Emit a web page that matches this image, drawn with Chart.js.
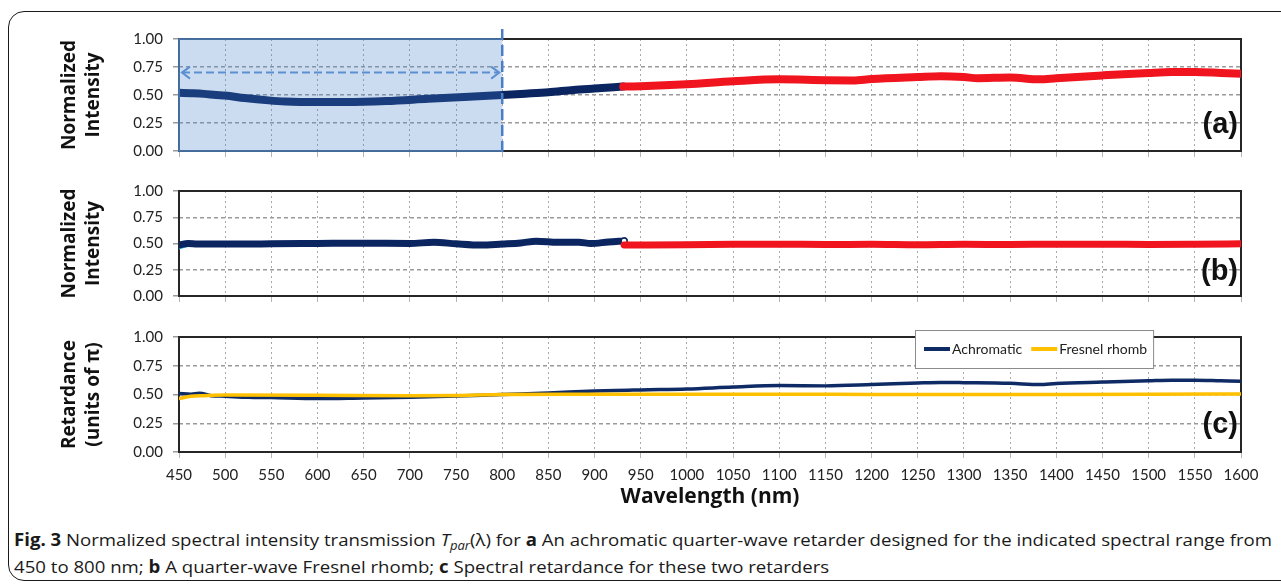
<!DOCTYPE html>
<html>
<head>
<meta charset="utf-8">
<script src="https://cdn.jsdelivr.net/npm/chart.js@4.4.0/dist/chart.umd.min.js"></script>
<style>
  body { margin: 0; background: #fff; width: 1281px; height: 584px; overflow: hidden; position: relative; }
  .frame { position: absolute; left: 8px; top: 11px; width: 1300px; height: 568px; border: 1.5px solid #1a1a1a; border-radius: 16px; }
  canvas { position: absolute; left: 0; }
  #caption { position: absolute; left: 14px; top: 526px; font-family: "Open Sans", sans-serif; font-size: 17px; line-height: 27px;
             color: #1a1a1a; white-space: nowrap; transform-origin: 0 0; }
  #caption sub { font-size: 70%; vertical-align: -4px; line-height: 0; }
</style>
</head>
<body>
<div class="frame"></div>
<canvas id="chartA" width="1281" height="150" style="top:20px"></canvas>
<canvas id="chartB" width="1281" height="143" style="top:172px"></canvas>
<canvas id="chartC" width="1281" height="192" style="top:318px"></canvas>
<div id="caption"><b>Fig. 3</b> Normalized spectral intensity transmission <i>T<sub>par</sub></i>(λ) for <b>a</b> An achromatic quarter-wave retarder designed for the indicated spectral range from<br>450 to 800 nm; <b>b</b> A quarter-wave Fresnel rhomb; <b>c</b> Spectral retardance for these two retarders</div>

<script>
// wavelength axis (nm) and intensity / retardance axis
var xMin = 450, xMax = 1600, xStep = 50;
var yMin = 0, yMax = 1, yStep = 0.25;

// (a) achromatic retarder, two spectrometers
var aNavyX = [450, 463, 477, 490, 500, 521, 547, 565, 600, 631, 675, 720, 764, 800, 825, 850, 877, 900, 931];
var aNavyY = [0.52, 0.516, 0.51, 0.50, 0.495, 0.473, 0.452, 0.442, 0.437, 0.437, 0.446, 0.466, 0.484, 0.50, 0.512, 0.525, 0.545, 0.558, 0.575];
var aRedX = [931, 950, 1000, 1050, 1100, 1150, 1180, 1200, 1250, 1275, 1300, 1315, 1350, 1382, 1400, 1450, 1500, 1525, 1550, 1578, 1600];
var aRedY = [0.575, 0.578, 0.595, 0.622, 0.64, 0.632, 0.63, 0.643, 0.66, 0.667, 0.66, 0.65, 0.656, 0.64, 0.65, 0.675, 0.697, 0.705, 0.705, 0.697, 0.69];

// (b) Fresnel rhomb
var bCyanX = [450, 453, 457];
var bCyanY = [0.468, 0.475, 0.485];
var bNavyX = [450, 460, 470, 500, 550, 600, 650, 700, 726, 750, 777, 800, 820, 837, 860, 883, 896, 915, 932];
var bNavyY = [0.485, 0.50, 0.495, 0.495, 0.497, 0.50, 0.503, 0.50, 0.512, 0.497, 0.485, 0.495, 0.505, 0.522, 0.512, 0.512, 0.50, 0.515, 0.525];
var bRedX = [932, 1000, 1050, 1100, 1150, 1200, 1250, 1300, 1350, 1400, 1450, 1500, 1550, 1600];
var bRedY = [0.485, 0.488, 0.492, 0.494, 0.49, 0.493, 0.488, 0.493, 0.49, 0.494, 0.494, 0.491, 0.493, 0.497];

// (c) retardance
var cAchroX = [450, 463, 472, 485, 500, 525, 550, 600, 650, 700, 750, 800, 850, 900, 936, 950, 1000, 1050, 1100, 1150, 1200, 1250, 1275, 1300, 1350, 1382, 1400, 1450, 1500, 1525, 1550, 1578, 1600];
var cAchroY = [0.508, 0.502, 0.51, 0.49, 0.485, 0.476, 0.473, 0.465, 0.47, 0.475, 0.486, 0.50, 0.513, 0.53, 0.537, 0.54, 0.548, 0.565, 0.578, 0.575, 0.586, 0.60, 0.605, 0.603, 0.597, 0.586, 0.595, 0.608, 0.62, 0.625, 0.625, 0.62, 0.616];
var cFresX = [450, 463, 477, 500, 600, 700, 750, 800, 900, 1000, 1100, 1200, 1300, 1400, 1500, 1600];
var cFresY = [0.465, 0.485, 0.49, 0.495, 0.494, 0.49, 0.492, 0.50, 0.502, 0.503, 0.503, 0.501, 0.50, 0.50, 0.502, 0.505];

var seriesNames = ['Achromatic', 'Fresnel rhomb'];
var panelLetters = ['(a)', '(b)', '(c)'];

// design range of the achromatic retarder, marked in panel (a)
var rangeFrom = 450, rangeTo = 800, arrowLevel = 0.70;

function pts(xs, ys) {
    return xs.map(function(x, i) { return { x: x, y: ys[i] }; });
}

function series(xs, ys, color, width, order) {
    return {
        data: pts(xs, ys),
        borderColor: color,
        backgroundColor: color,
        borderWidth: width,
        pointRadius: 0,
        cubicInterpolationMode: 'monotone',
        borderCapStyle: 'round',
        borderJoinStyle: 'round',
        fill: false,
        order: order
    };
}

// plot frame and the panel letter
var panelFrame = {
    id: 'panelFrame',
    beforeDatasetsDraw: function(chart) {
        var a = chart.chartArea, ctx = chart.ctx;
        ctx.save();
        ctx.strokeStyle = '#262626';
        ctx.lineWidth = 2;
        ctx.strokeRect(a.left, a.top, a.right - a.left, a.bottom - a.top);
        ctx.restore();
    },
    afterDatasetsDraw: function(chart, args, opts) {
        var a = chart.chartArea, ctx = chart.ctx;
        ctx.save();
        ctx.font = 'bold 29px "Liberation Sans", Arial, sans-serif';
        ctx.fillStyle = '#111';
        ctx.textAlign = 'right';
        ctx.textBaseline = 'middle';
        ctx.fillText(opts.letter, a.right - 3, chart.scales.y.getPixelForValue(0.25) + 2);
        ctx.restore();
    }
};

// shaded design range with dashed edge and double arrow
var rangeMarker = {
    id: 'rangeMarker',
    afterDatasetsDraw: function(chart) {
        var ctx = chart.ctx, x = chart.scales.x, y = chart.scales.y;
        var x0 = x.getPixelForValue(rangeFrom), x1 = x.getPixelForValue(rangeTo);
        var yt = y.getPixelForValue(yMax), yb = y.getPixelForValue(yMin);
        var ya = y.getPixelForValue(arrowLevel);
        ctx.save();
        ctx.fillStyle = 'rgba(70,130,200,0.28)';
        ctx.fillRect(x0, yt, x1 - x0, yb - yt);
        ctx.strokeStyle = '#4f81bd';
        ctx.lineWidth = 1.5;
        ctx.beginPath();
        ctx.moveTo(x1, yt); ctx.lineTo(x0, yt); ctx.lineTo(x0, yb); ctx.lineTo(x1, yb);
        ctx.stroke();

        ctx.strokeStyle = '#4a7ec4';
        ctx.lineWidth = 2.5;
        ctx.setLineDash([11, 5]);
        ctx.beginPath();
        ctx.moveTo(x1, yt - 10); ctx.lineTo(x1, yb + 4);
        ctx.stroke();

        ctx.strokeStyle = '#5b8fd2';
        ctx.lineWidth = 2;
        ctx.setLineDash([8, 4]);
        ctx.beginPath();
        ctx.moveTo(x0 + 3, ya); ctx.lineTo(x1 - 3, ya);
        ctx.stroke();
        ctx.setLineDash([]);
        ctx.beginPath();
        ctx.moveTo(x0 + 11, ya - 6); ctx.lineTo(x0 + 3, ya); ctx.lineTo(x0 + 11, ya + 6);
        ctx.moveTo(x1 - 11, ya - 6); ctx.lineTo(x1 - 3, ya); ctx.lineTo(x1 - 11, ya + 6);
        ctx.stroke();
        ctx.restore();
    }
};

// boxed legend inside panel (c)
var boxLegend = {
    id: 'boxLegend',
    afterDatasetsDraw: function(chart, args, opts) {
        if (!opts.height) return;
        var ctx = chart.ctx;
        var sets = chart.data.datasets;
        ctx.save();
        ctx.font = '14px Lato, sans-serif';
        var w = 6;
        sets.forEach(function(ds) { w += 26 + 2 + ctx.measureText(ds.label).width + 9; });
        var cy = opts.top + opts.height / 2;
        ctx.fillStyle = '#fff';
        ctx.fillRect(opts.left, opts.top, w, opts.height);
        ctx.strokeStyle = '#8c8c8c';
        ctx.lineWidth = 1;
        ctx.strokeRect(opts.left + 0.5, opts.top + 0.5, w, opts.height);
        var cx = opts.left + 9;
        sets.forEach(function(ds) {
            ctx.strokeStyle = ds.borderColor;
            ctx.lineWidth = 4;
            ctx.beginPath();
            ctx.moveTo(cx, cy); ctx.lineTo(cx + 26, cy);
            ctx.stroke();
            cx += 28;
            ctx.fillStyle = '#222';
            ctx.textBaseline = 'middle';
            ctx.fillText(ds.label, cx, cy);
            cx += ctx.measureText(ds.label).width + 9;
        });
        ctx.restore();
    }
};

var tickFont = { family: 'Lato', size: 15 };
var titleFont = { family: 'Open Sans', size: 19, weight: 'bold', lineHeight: 1.3 };

function makeOptions(letter, yTitle, bottomLabels, padTop, legendBox) {
    return {
        responsive: false,
        animation: false,
        events: [],
        layout: { padding: { top: padTop, right: 40, left: 0, bottom: 0 } },
        plugins: {
            legend: { display: false },
            tooltip: { enabled: false },
            panelFrame: { letter: letter },
            boxLegend: legendBox || {}
        },
        scales: {
            x: {
                type: 'linear', min: xMin, max: xMax,
                afterFit: function(s) { s.height = bottomLabels ? 58 : 9; },
                ticks: { stepSize: xStep, display: bottomLabels, autoSkip: false, maxRotation: 0, minRotation: 0,
                         padding: 8, color: '#222', font: tickFont,
                         callback: function(v) { return String(v); } },
                grid: { color: '#a9a9a9', lineWidth: 1, tickLength: 6, tickColor: '#b5b5b5' },
                border: { display: false, dash: [2, 3] },
                title: { display: bottomLabels, text: 'Wavelength (nm)', color: '#111',
                         font: { family: 'Open Sans', size: 21, weight: 'bold' }, padding: { top: 0, bottom: 0 } }
            },
            y: {
                min: yMin, max: yMax,
                afterFit: function(s) { s.width = 179; },
                ticks: { stepSize: yStep, padding: 10, color: '#222', font: tickFont,
                         callback: function(v) { return v.toFixed(2); } },
                grid: { color: '#9a9a9a', lineWidth: 1.5, tickLength: 6, tickColor: '#9a9a9a' },
                border: { display: false, dash: [4, 3] },
                title: { display: true, text: yTitle, color: '#111', font: titleFont, padding: { top: 57, bottom: 0 } }
            }
        }
    };
}

var navy = '#0b2560', red = '#f0141e';

new Chart(document.getElementById('chartA'), {
    type: 'line',
    data: { datasets: [
        series(aNavyX, aNavyY, navy, 8, 1),
        series(aRedX, aRedY, red, 8, 0)
    ] },
    options: makeOptions(panelLetters[0], ['Normalized', 'Intensity'], false, 18),
    plugins: [panelFrame, rangeMarker]
});

var bNavy = series(bNavyX, bNavyY, navy, 7, 1);
bNavy.pointRadius = bNavyX.map(function(v, i) { return i === bNavyX.length - 1 ? 3 : 0; });
bNavy.pointBackgroundColor = '#fff';
bNavy.pointBorderColor = navy;
bNavy.pointBorderWidth = 1.5;

new Chart(document.getElementById('chartB'), {
    type: 'line',
    data: { datasets: [
        series(bCyanX, bCyanY, '#2fc2f0', 5, 2),
        bNavy,
        series(bRedX, bRedY, red, 7, 0)
    ] },
    options: makeOptions(panelLetters[1], ['Normalized', 'Intensity'], false, 11),
    plugins: [panelFrame]
});

var cAchro = series(cAchroX, cAchroY, '#0f2b66', 3.5, 1);
cAchro.label = seriesNames[0];
var cFres = series(cFresX, cFresY, '#ffc000', 3.5, 0);
cFres.label = seriesNames[1];

new Chart(document.getElementById('chartC'), {
    type: 'line',
    data: { datasets: [cAchro, cFres] },
    options: makeOptions(panelLetters[2], ['Retardance', '(units of π)'], true, 10, { left: 915, top: 12, height: 38 }),
    plugins: [panelFrame, boxLegend]
});

// squeeze the caption to the condensed width of the original
var cap = document.getElementById('caption');
cap.style.transform = 'scaleX(' + (1258 / cap.scrollWidth) + ')';
</script>
</body>
</html>
